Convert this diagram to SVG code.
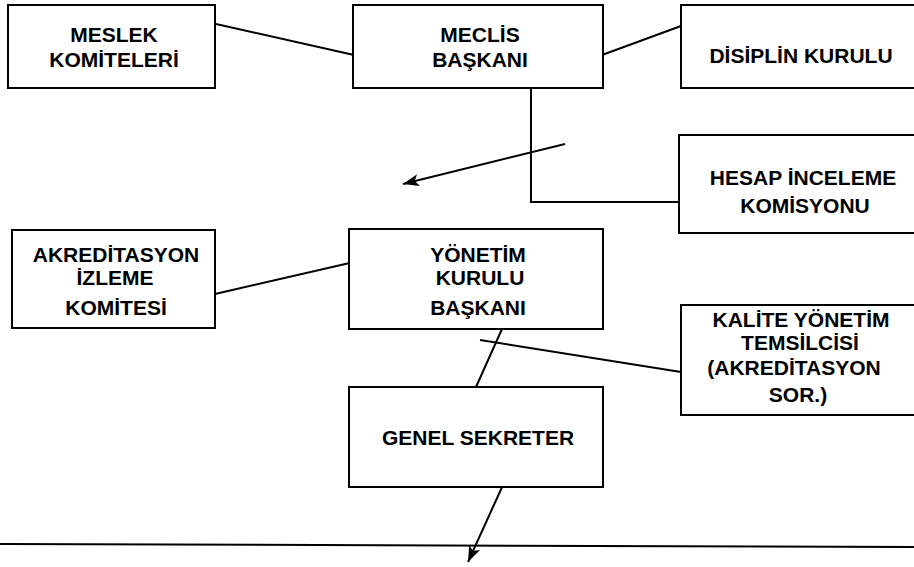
<svg xmlns="http://www.w3.org/2000/svg" width="914" height="567" viewBox="0 0 914 567">
<defs>
<style>
.box{fill:#fff;stroke:#000;stroke-width:2}
.t{font-family:"Liberation Sans",Arial,sans-serif;font-weight:bold;font-size:21px;fill:#000;text-anchor:middle}
.c{fill:none;stroke:#000;stroke-width:2}
</style>
<marker id="arr" markerUnits="userSpaceOnUse" markerWidth="18" markerHeight="14" refX="16" refY="6" orient="auto">
<path d="M0,0 L16,6 L0,12 L4,6 z" fill="#000"/>
</marker>
</defs>
<rect width="914" height="567" fill="#fff"/>
<g id="connectors">
<line class="c" x1="216" y1="24" x2="354" y2="55"/>
<line class="c" x1="602" y1="55" x2="681" y2="26"/>
<path class="c" d="M538,83 H531 V202 H680"/>
<line class="c" x1="565" y1="144" x2="403" y2="184" marker-end="url(#arr)"/>
<line class="c" x1="215" y1="294" x2="354" y2="262"/>
<line class="c" x1="480" y1="340" x2="681" y2="372"/>
<line class="c" x1="502" y1="329" x2="476" y2="387"/>
<line class="c" x1="503" y1="485" x2="468" y2="562" marker-end="url(#arr)"/>
<line class="c" x1="0" y1="544" x2="914" y2="547"/>
</g>
<g id="meslek">
<rect class="box" x="8" y="5" width="207" height="83"/>
<text class="t" x="114" y="42">MESLEK</text>
<text class="t" x="114" y="67">KOMİTELERİ</text>
</g>
<g id="meclis">
<rect class="box" x="353" y="5" width="250" height="83"/>
<text class="t" x="480" y="42">MECLİS</text>
<text class="t" x="480" y="67">BAŞKANI</text>
</g>
<g id="disiplin">
<rect class="box" x="681" y="5" width="240" height="83"/>
<text class="t" x="801" y="63">DİSİPLİN KURULU</text>
</g>
<g id="hesap">
<rect class="box" x="679" y="135" width="242" height="98"/>
<text class="t" x="803" y="185">HESAP İNCELEME</text>
<text class="t" x="805" y="213">KOMİSYONU</text>
</g>
<g id="akreditasyon">
<rect class="box" x="12" y="230" width="203" height="98"/>
<text class="t" x="116" y="262">AKREDİTASYON</text>
<text class="t" x="115" y="285">İZLEME</text>
<text class="t" x="116" y="315">KOMİTESİ</text>
</g>
<g id="yonetim">
<rect class="box" x="349" y="229" width="254" height="100"/>
<text class="t" x="478" y="262">YÖNETİM</text>
<text class="t" x="480" y="285">KURULU</text>
<text class="t" x="478" y="315">BAŞKANI</text>
</g>
<g id="kalite">
<rect class="box" x="681" y="305" width="240" height="110"/>
<text class="t" x="801" y="327">KALİTE YÖNETİM</text>
<text class="t" x="800" y="350">TEMSİLCİSİ</text>
<text class="t" x="794" y="375">(AKREDİTASYON</text>
<text class="t" x="798" y="402">SOR.)</text>
</g>
<g id="genel">
<rect class="box" x="349" y="387" width="254" height="100"/>
<text class="t" x="478" y="445">GENEL SEKRETER</text>
</g>
</svg>
